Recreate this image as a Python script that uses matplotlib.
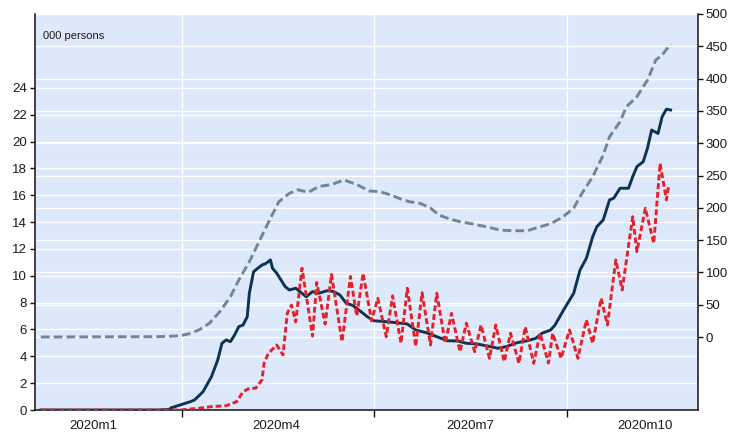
import matplotlib
matplotlib.use("Agg")
import matplotlib.pyplot as plt
import matplotlib.transforms as mtrans
import matplotlib.dates as mdates
from matplotlib.ticker import FixedLocator, FixedFormatter, NullFormatter
import numpy as np

plt.rcParams['font.family'] = ['Liberation Sans', 'DejaVu Sans']

# ---------------- data ----------------
navy_dates = ['2020-01-25', '2020-03-21', '2020-03-26', '2020-03-27', '2020-04-01', '2020-04-05',
              '2020-04-07', '2020-04-11', '2020-04-15', '2020-04-18', '2020-04-20', '2020-04-22',
              '2020-04-24', '2020-04-26', '2020-04-28', '2020-04-30', '2020-05-02', '2020-05-03',
              '2020-05-05', '2020-05-07', '2020-05-09', '2020-05-11', '2020-05-13', '2020-05-14',
              '2020-05-16', '2020-05-18', '2020-05-20', '2020-05-22', '2020-05-25', '2020-05-27',
              '2020-05-30', '2020-06-02', '2020-06-05', '2020-06-09', '2020-06-12', '2020-06-15',
              '2020-06-18', '2020-06-21', '2020-06-24', '2020-06-28', '2020-07-01', '2020-07-07',
              '2020-07-12', '2020-07-17', '2020-07-21', '2020-07-26', '2020-07-31', '2020-08-05',
              '2020-08-10', '2020-08-14', '2020-08-19', '2020-08-24', '2020-08-29', '2020-09-02',
              '2020-09-07', '2020-09-12', '2020-09-16', '2020-09-19', '2020-09-23', '2020-09-25',
              '2020-09-29', '2020-10-04', '2020-10-07', '2020-10-10', '2020-10-13', '2020-10-15',
              '2020-10-18', '2020-10-21', '2020-10-23', '2020-10-26', '2020-10-30', '2020-11-01',
              '2020-11-03', '2020-11-06', '2020-11-08', '2020-11-10', '2020-11-13', '2020-11-15',
              '2020-11-17', '2020-11-19']
navy_vals = [0.0, 0.0, 0.05, 0.17, 0.42, 0.62,
             0.75, 1.36, 2.48, 3.73, 4.97, 5.22,
             5.09, 5.59, 6.21, 6.33, 6.95, 8.7,
             10.3, 10.56, 10.8, 10.93, 11.18, 10.56,
             10.19, 9.69, 9.19, 8.94, 9.07, 8.82,
             8.44, 8.82, 8.7, 8.89, 8.82, 8.57,
             7.95, 7.8, 7.45, 6.95, 6.65, 6.58,
             6.5, 6.41, 5.96, 5.76, 5.46, 5.16,
             5.14, 4.97, 4.92, 4.77, 4.6, 4.72,
             5.01, 5.16, 5.34, 5.72, 5.96, 6.3,
             7.4, 8.7, 10.43, 11.3, 12.91, 13.66,
             14.16, 15.65, 15.78, 16.52, 16.52, 17.38,
             18.13, 18.5, 19.5, 20.86, 20.6, 21.86,
             22.41, 22.35]

red_dates = ['2020-01-25', '2020-03-31', '2020-04-09', '2020-04-15', '2020-04-22', '2020-04-27',
             '2020-04-30', '2020-05-03', '2020-05-06', '2020-05-09', '2020-05-10', '2020-05-12',
             '2020-05-16', '2020-05-19', '2020-05-21', '2020-05-23', '2020-05-25', '2020-05-28',
             '2020-06-02', '2020-06-04', '2020-06-08', '2020-06-11', '2020-06-16', '2020-06-20',
             '2020-06-23', '2020-06-26', '2020-06-30', '2020-07-03', '2020-07-07', '2020-07-10',
             '2020-07-14', '2020-07-17', '2020-07-21', '2020-07-24', '2020-07-28', '2020-07-31',
             '2020-08-04', '2020-08-07', '2020-08-11', '2020-08-14', '2020-08-18', '2020-08-21',
             '2020-08-25', '2020-08-28', '2020-09-01', '2020-09-04', '2020-09-08', '2020-09-11',
             '2020-09-15', '2020-09-18', '2020-09-22', '2020-09-24', '2020-09-28', '2020-10-02',
             '2020-10-06', '2020-10-10', '2020-10-13', '2020-10-17', '2020-10-20', '2020-10-24',
             '2020-10-27', '2020-11-01', '2020-11-03', '2020-11-07', '2020-11-11', '2020-11-14',
             '2020-11-17', '2020-11-18']
red_vals = [0.0, 0.0, 0.13, 0.25, 0.32, 0.62,
            1.36, 1.62, 1.62, 2.24, 3.48, 4.22,
            4.84, 4.1, 7.2, 7.82, 6.56, 10.56,
            5.5, 9.5, 6.4, 10.1, 5.09, 9.95,
            7.0, 10.19, 6.65, 8.32, 5.46, 8.5,
            4.97, 9.07, 4.72, 8.74, 4.84, 8.7,
            4.97, 7.2, 4.34, 6.46, 4.34, 6.33,
            3.85, 6.33, 3.6, 5.72, 3.48, 6.2,
            3.48, 5.72, 3.5, 5.72, 3.85, 5.96,
            3.85, 6.71, 4.97, 8.32, 6.33, 11.18,
            8.94, 14.4, 11.8, 15.03, 12.42, 18.38,
            15.65, 16.64]

gray_dates = ['2020-01-25', '2020-03-20', '2020-03-26', '2020-03-31', '2020-04-04', '2020-04-09',
              '2020-04-14', '2020-04-19', '2020-04-24', '2020-04-28', '2020-05-03', '2020-05-08',
              '2020-05-13', '2020-05-17', '2020-05-22', '2020-05-26', '2020-05-31', '2020-06-05',
              '2020-06-11', '2020-06-17', '2020-06-23', '2020-06-29', '2020-07-04', '2020-07-09',
              '2020-07-13', '2020-07-18', '2020-07-23', '2020-07-28', '2020-08-01', '2020-08-06',
              '2020-08-11', '2020-08-17', '2020-08-24', '2020-08-30', '2020-09-05', '2020-09-12',
              '2020-09-16', '2020-09-21', '2020-09-24', '2020-09-29', '2020-10-04', '2020-10-08',
              '2020-10-13', '2020-10-18', '2020-10-21', '2020-10-26', '2020-10-29', '2020-11-03',
              '2020-11-08', '2020-11-12', '2020-11-15', '2020-11-19']
gray_vals = [0.0, 0.5, 1.0, 2.0, 4.6, 10.8,
             21.2, 39.2, 62.4, 88.2, 116.6, 150.2,
             183.7, 209.4, 222.4, 228.0, 224.0, 233.0,
             236.0, 243.0, 236.0, 226.0, 225.0, 220.0,
             214.7, 209.4, 207.0, 199.7, 188.9, 182.7,
             178.5, 175.0, 170.3, 165.6, 164.5, 164.5,
             168.7, 173.4, 177.0, 186.2, 199.7, 222.9,
             248.0, 281.7, 310.0, 333.3, 356.5, 372.0,
             397.8, 428.8, 436.5, 453.6]

left_ticks = list(range(0, 25, 2))
right_ticks = list(range(0, 501, 50))
quarter_ticks = ['2020-04-01', '2020-07-01', '2020-10-01']
label_dates = ['2020-02-19', '2020-05-16', '2020-08-16', '2020-11-07']
x_labels = ['2020m1', '2020m4', '2020m7', '2020m10']
unit_label = '000 persons'
x_range = ['2020-01-22', '2020-12-02']

# ---------------- styling ----------------
BG = '#dde9fa'
NAVY = '#0c3352'
RED = '#e8202a'
GRAY = '#6d8797'
TXT = '#1a1a1a'

fig = plt.figure(figsize=(7.36, 4.36), dpi=100)
axL = fig.add_axes([34.5 / 736, 1 - 410 / 436, (698 - 34.5) / 736, (410 - 14) / 436])
axR = axL.twinx()
axL.set_zorder(2)
axR.set_zorder(1)
axL.patch.set_visible(False)
axR.patch.set_visible(True)
axR.patch.set_facecolor(BG)

to_dt = lambda lst: np.array(lst, dtype='datetime64[D]')

axL.set_xlim(to_dt(x_range)[0], to_dt(x_range)[1])
axL.set_ylim(0, 29.5)
axR.set_ylim(-113, 500)

# gridlines (drawn in the bottom axes so they sit behind all series)
blendL = mtrans.blended_transform_factory(axR.transAxes, axL.transData)
for v in left_ticks:
    axR.plot([0, 1], [v, v], transform=blendL, color='white', lw=1.0, zorder=0.5)
for v in right_ticks:
    axR.axhline(v, color='white', lw=1.0, zorder=0.5)
for d in to_dt(quarter_ticks):
    axR.axvline(d, color='white', lw=1.0, zorder=0.5)

# series
lg, = axR.plot(to_dt(gray_dates), gray_vals, color=GRAY, lw=2.1, zorder=3,
               solid_capstyle='butt')
lg.set_dashes((3.0, 1.4))
axL.plot(to_dt(navy_dates), navy_vals, color=NAVY, lw=2.1, zorder=3,
         solid_joinstyle='round')
lr, = axL.plot(to_dt(red_dates), red_vals, color=RED, lw=2.1, zorder=4)
lr.set_dashes((2.0, 1.0))

# re-apply limits
axL.set_xlim(to_dt(x_range)[0], to_dt(x_range)[1])
axL.set_ylim(0, 29.5)
axR.set_ylim(-113, 500)

# spines
for ax in (axL, axR):
    ax.spines['top'].set_visible(False)
    for s in ax.spines.values():
        s.set_linewidth(1.1)
        s.set_color('#111111')
axL.spines['right'].set_visible(False)
axR.spines['left'].set_visible(False)
axR.spines['bottom'].set_visible(False)

# y ticks
axL.yaxis.set_major_locator(FixedLocator(left_ticks))
axL.set_yticklabels([str(v) for v in left_ticks])
axL.tick_params(axis='y', direction='out', length=3.5, width=1, pad=2,
                labelsize=9.5, labelcolor=TXT, colors='#111111')
axR.yaxis.set_major_locator(FixedLocator(right_ticks))
axR.set_yticklabels([str(v) for v in right_ticks])
axR.tick_params(axis='y', direction='out', length=3.5, width=1, pad=2,
                labelsize=9.5, labelcolor=TXT, colors='#111111')

# x ticks
qnums = mdates.date2num(to_dt(quarter_ticks))
lnums = mdates.date2num(to_dt(label_dates))
axL.xaxis.set_major_locator(FixedLocator(qnums))
axL.xaxis.set_major_formatter(NullFormatter())
axL.xaxis.set_minor_locator(FixedLocator(lnums))
axL.xaxis.set_minor_formatter(FixedFormatter(x_labels))
axL.tick_params(axis='x', which='major', direction='out', length=5, width=1,
                colors='#111111')
axL.tick_params(axis='x', which='minor', length=0, pad=7, labelsize=9.5,
                labelcolor=TXT)

axL.text(0.013, 0.944, unit_label, transform=axL.transAxes, ha='left',
         va='center', fontsize=8, color=TXT)

fig.savefig('out.png', dpi=100, facecolor='white')
